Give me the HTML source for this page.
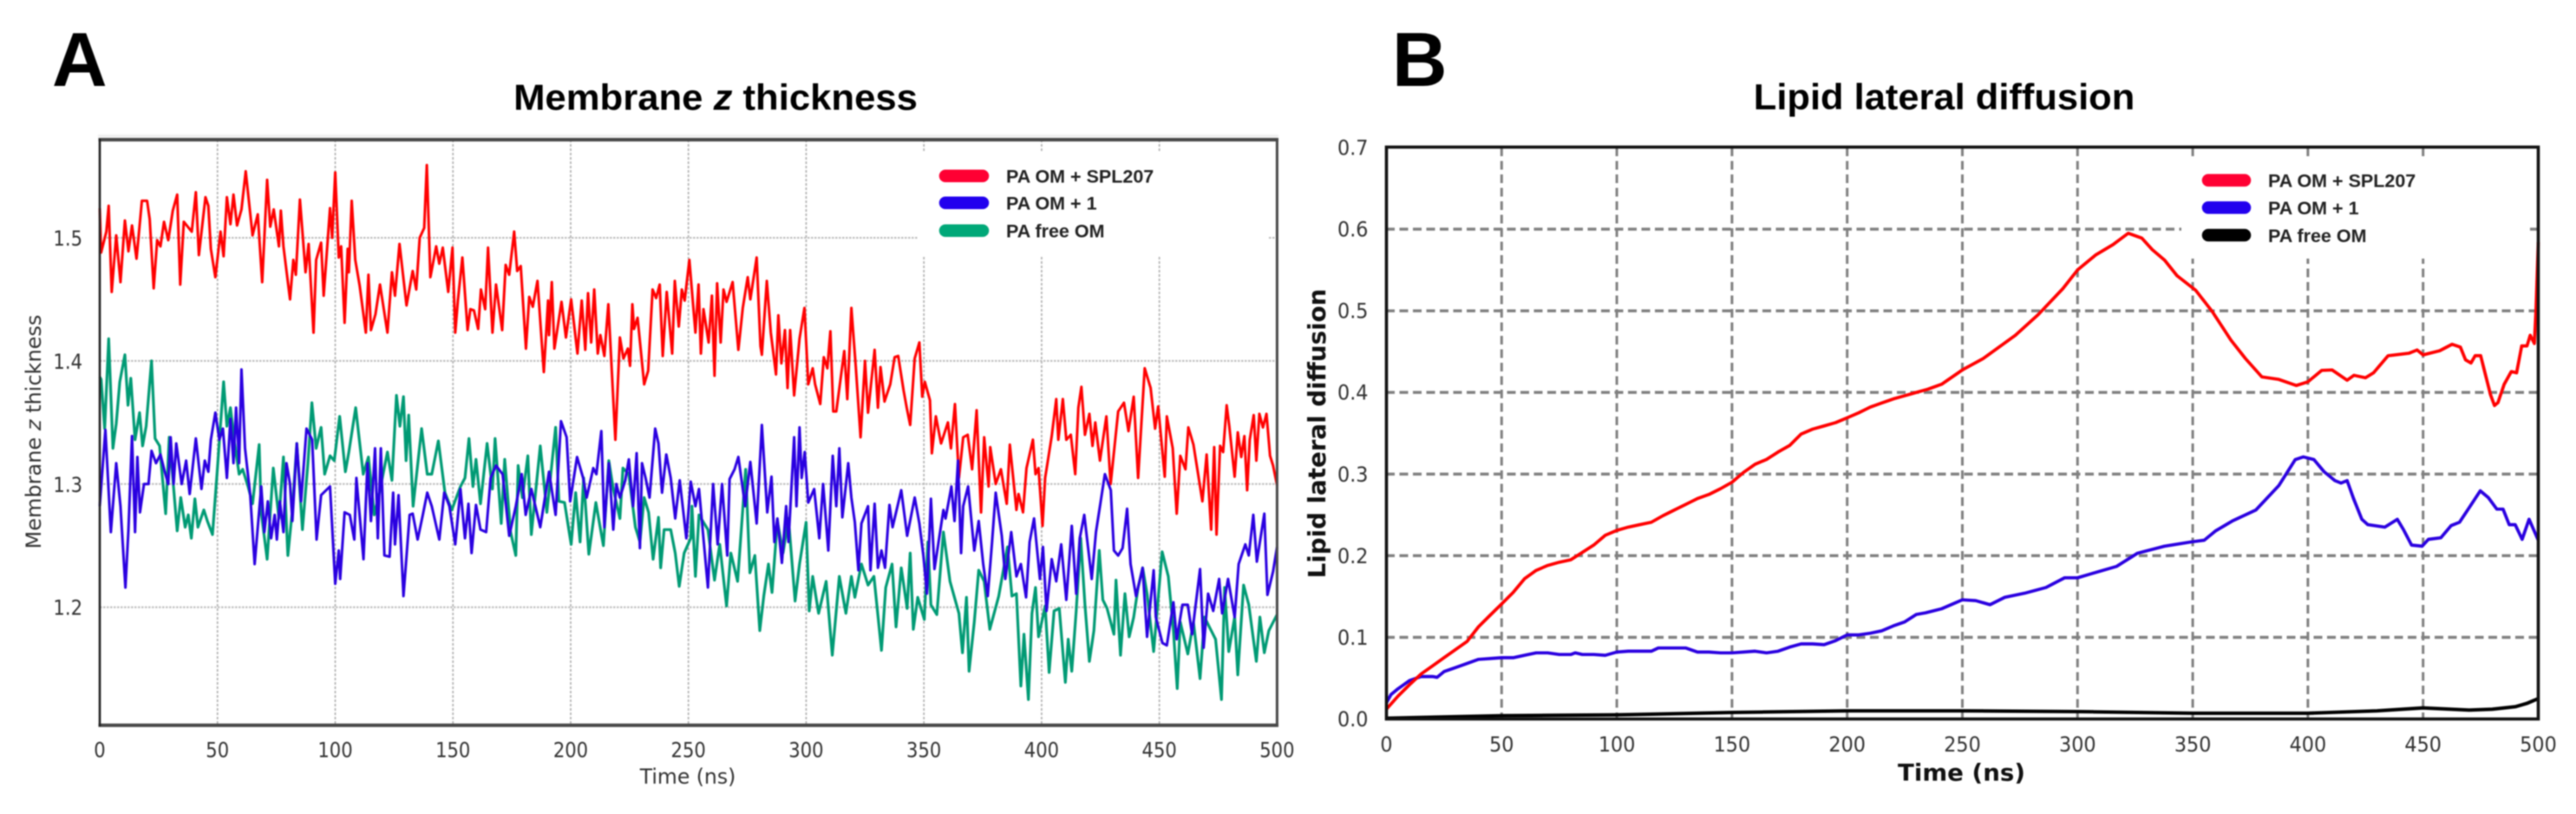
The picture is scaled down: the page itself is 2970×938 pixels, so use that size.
<!DOCTYPE html>
<html lang="en">
<head>
<meta charset="utf-8">
<title>Membrane z thickness and lipid lateral diffusion</title>
<style>
html,body{margin:0;padding:0;background:#fff;width:2970px;height:938px;overflow:hidden}
svg{display:block;filter:blur(0.7px)}
.dj{font-family:"DejaVu Sans","Liberation Sans",sans-serif}
.lb{font-family:"Liberation Sans",sans-serif;font-weight:bold}
</style>
</head>
<body>
<svg id="figure" xmlns="http://www.w3.org/2000/svg" width="2970" height="938" viewBox="0 0 2970 938">
  <rect width="2970" height="938" fill="#fff"/>
  <text class="lb" x="60" y="99" font-size="88" fill="#000">A</text>
  <text class="lb" x="1605" y="99" font-size="88" fill="#000">B</text>
  <text class="lb" transform="translate(825,126.5) scale(1.04,1)" text-anchor="middle" font-size="42" fill="#000">Membrane <tspan font-style="italic">z</tspan> thickness</text>
  <text class="lb" transform="translate(2241.5,126) scale(1.035,1)" text-anchor="middle" font-size="42" fill="#000">Lipid lateral diffusion</text>

  <rect x="113" y="155" width="1361" height="5" fill="#f0f0f0"/>
  <g id="gridA"></g>
  <rect x="1059" y="175" width="404" height="119" fill="#fff"/>
  <g id="seriesA"></g>
  <g fill="none">
    <line x1="113.5" y1="161" x2="1474" y2="161" stroke="#484848" stroke-width="4"/>
    <line x1="113.5" y1="835.7" x2="1474" y2="835.7" stroke="#484848" stroke-width="4"/>
    <line x1="115" y1="160" x2="115" y2="837" stroke="#222" stroke-width="2.6"/>
    <line x1="1472.4" y1="160" x2="1472.4" y2="837" stroke="#484848" stroke-width="3"/>
  </g>
  <g id="ticksA"></g>
  <text class="dj" transform="translate(793,903) scale(0.98,1)" text-anchor="middle" font-size="24" fill="#333">Time (ns)</text>
  <text class="dj" transform="translate(47,497.5) rotate(-90)" text-anchor="middle" font-size="24" fill="#333">Membrane <tspan font-style="italic">z</tspan> thickness</text>
  <g>
    <g>
      <line x1="1090" y1="202.7" x2="1133" y2="202.7" stroke="#ff0033" stroke-width="14.5" stroke-linecap="round"/>
      <text class="lb" x="1160" y="210.5" font-size="21.5" fill="#222">PA OM + SPL207</text>
    </g>
    <g>
      <line x1="1090" y1="233.7" x2="1133" y2="233.7" stroke="#2200ee" stroke-width="14.5" stroke-linecap="round"/>
      <text class="lb" x="1160" y="241.5" font-size="21.5" fill="#222">PA OM + 1</text>
    </g>
    <g>
      <line x1="1090" y1="265.7" x2="1133" y2="265.7" stroke="#00a878" stroke-width="14.5" stroke-linecap="round"/>
      <text class="lb" x="1160" y="273.5" font-size="21.5" fill="#222">PA free OM</text>
    </g>
  </g>

  <g id="gridB"></g>
  <rect x="2515" y="180" width="402" height="118" fill="#fff"/>
  <g id="seriesB"></g>
  <g fill="none">
    <rect x="1598.5" y="169.5" width="1328" height="659" stroke="#111" stroke-width="3.6"/>
  </g>
  <g id="ticksB"></g>
  <text class="dj" font-weight="bold" transform="translate(2261.5,899.5) scale(1.044,1)" text-anchor="middle" font-size="26.5" fill="#111">Time (ns)</text>
  <text class="dj" font-weight="bold" transform="translate(1528,499.5) rotate(-90)" text-anchor="middle" font-size="27.7" fill="#111">Lipid lateral diffusion</text>
  <g>
    <g>
      <line x1="2546" y1="207.7" x2="2588" y2="207.7" stroke="#ff0033" stroke-width="14.5" stroke-linecap="round"/>
      <text class="lb" x="2615" y="215.5" font-size="21.5" fill="#222">PA OM + SPL207</text>
    </g>
    <g>
      <line x1="2546" y1="239.3" x2="2588" y2="239.3" stroke="#2200ee" stroke-width="14.5" stroke-linecap="round"/>
      <text class="lb" x="2615" y="247" font-size="21.5" fill="#222">PA OM + 1</text>
    </g>
    <g>
      <line x1="2546" y1="271" x2="2588" y2="271" stroke="#000" stroke-width="14.5" stroke-linecap="round"/>
      <text class="lb" x="2615" y="278.8" font-size="21.5" fill="#222">PA free OM</text>
    </g>
  </g>
</svg>
<script>
const xTickLabels = [0,50,100,150,200,250,300,350,400,450,500];
const aYTickLabels = ["1.2","1.3","1.4","1.5"];
const bYTickLabels = ["0.0","0.1","0.2","0.3","0.4","0.5","0.6","0.7"];

const aRedTime = [0,0.6,2.8,3.8,5.1,7,8.8,10.7,12.2,13.7,15.6,17.9,20.1,21.2,22.9,24.4,25.8,27.3,29.1,31,32.9,34.2,35.7,39.1,40.8,42.1,44.9,46.1,47.2,49.1,51.3,52.6,54,55.5,56.8,58.3,60.2,62,64.9,67.1,69,71.1,72.4,73.9,76.1,76.9,78,80.8,82.2,83.3,85,87.4,88.7,90.8,91.9,94,95.1,97.8,98.7,100,101.5,102.5,104,105.3,105.8,107,108.5,110.4,113,114.1,115.2,117.1,119,122.2,124.1,125.4,127.3,130.3,132.9,134.4,135.9,137.8,138.9,140.4,142.9,144.2,145.7,148,149.8,151,152.1,154,156.2,157.4,158.9,160.7,161.9,163.7,164.9,166.8,168.3,170.9,172.4,173.9,176,177.3,178.8,181,182.4,183.9,185.9,188.6,190.4,190.8,192,193.1,196.1,198,200.2,202.9,204.7,206.2,207.4,208.7,210,211.5,212.6,214.3,216,219,220.9,222.4,224.3,225.2,226.2,226.9,228.4,231.2,232.9,234.8,236.3,237.8,239.1,240.8,243.1,244.2,245.9,247.2,248.4,250.4,253,254.3,255.3,256.4,258.6,260,261.1,262.2,263.7,264.9,266.2,268.8,271.2,273.1,275.2,276.3,279,280.6,281.2,283.3,285,287.2,288.2,289.5,291,292.1,293.2,294.9,297.2,299.3,300.9,302.8,303.8,306,307.5,309,310.3,311.5,312.8,316.2,317.5,319.2,321.1,323.1,325,326.3,329.1,330.5,331.6,333.3,335.7,337.6,339.1,341.4,342.7,344.2,346.1,348.1,349.3,350.4,352.6,353.4,355.1,357.3,360.2,361.5,363.2,364.9,366.7,368.6,370.5,372.4,374.3,375.6,377.5,378.2,380.5,382.7,385.2,386.5,389.3,390.2,392.1,393.6,396.3,397.4,398.7,400.4,401.5,404.3,406.2,407.1,409,410.5,412.4,414.3,415.6,416.9,418.4,420.3,421.6,422.8,424.8,427.5,429.3,432.5,435,436.9,439.1,441,443.8,446.3,448.2,449.5,452.3,453.2,455.7,457.4,458.9,461.1,462.3,464.5,468.3,470.1,472,473.3,474.3,475.8,477.1,478.6,479.7,482,483.3,484.8,486.1,487.3,488.4,490.1,491.2,492.5,494,495.5,497,498.3,500];
const aRedValue = [1.524,1.488,1.505,1.526,1.456,1.502,1.464,1.514,1.489,1.51,1.483,1.53,1.53,1.515,1.459,1.498,1.493,1.513,1.498,1.522,1.535,1.462,1.513,1.505,1.537,1.486,1.533,1.526,1.491,1.468,1.505,1.485,1.533,1.511,1.535,1.51,1.523,1.554,1.502,1.519,1.464,1.547,1.509,1.523,1.493,1.522,1.493,1.45,1.482,1.47,1.531,1.472,1.495,1.423,1.482,1.496,1.453,1.524,1.5,1.553,1.484,1.493,1.431,1.491,1.472,1.53,1.482,1.461,1.423,1.47,1.425,1.438,1.462,1.423,1.472,1.453,1.495,1.445,1.473,1.458,1.5,1.508,1.559,1.468,1.493,1.479,1.492,1.456,1.492,1.423,1.449,1.484,1.425,1.442,1.441,1.426,1.458,1.442,1.492,1.423,1.462,1.425,1.478,1.47,1.505,1.473,1.477,1.41,1.452,1.444,1.465,1.391,1.449,1.421,1.464,1.41,1.448,1.419,1.45,1.406,1.449,1.409,1.455,1.415,1.458,1.406,1.421,1.404,1.446,1.336,1.419,1.402,1.41,1.396,1.446,1.426,1.435,1.381,1.392,1.458,1.451,1.462,1.404,1.456,1.406,1.465,1.428,1.458,1.449,1.482,1.423,1.462,1.406,1.442,1.415,1.453,1.388,1.463,1.415,1.458,1.448,1.464,1.409,1.443,1.468,1.45,1.484,1.412,1.405,1.465,1.423,1.389,1.437,1.398,1.425,1.378,1.425,1.372,1.418,1.443,1.381,1.394,1.381,1.365,1.403,1.394,1.424,1.359,1.359,1.408,1.369,1.443,1.395,1.338,1.4,1.358,1.409,1.362,1.395,1.367,1.381,1.403,1.404,1.376,1.362,1.348,1.402,1.415,1.371,1.383,1.368,1.325,1.355,1.333,1.35,1.329,1.365,1.305,1.338,1.34,1.312,1.36,1.277,1.338,1.298,1.33,1.3,1.312,1.284,1.332,1.279,1.292,1.277,1.313,1.336,1.308,1.313,1.266,1.305,1.339,1.369,1.336,1.369,1.336,1.34,1.308,1.362,1.379,1.34,1.357,1.331,1.35,1.319,1.355,1.3,1.359,1.366,1.343,1.371,1.305,1.394,1.378,1.345,1.363,1.306,1.355,1.329,1.276,1.323,1.312,1.346,1.332,1.286,1.324,1.263,1.33,1.259,1.331,1.326,1.364,1.347,1.306,1.342,1.322,1.339,1.295,1.336,1.356,1.319,1.357,1.346,1.357,1.323,1.315,1.299];

const aBlueTime = [0,2.4,4.7,7,8.8,10.9,12.2,13.7,15,16,17.1,18.8,20.7,22,23.9,25.8,27.6,29.1,30.1,31.4,32.5,34.8,36.7,38.2,40.8,43.2,44.6,46.1,47.2,49.1,50.8,52.3,54,55.5,56.8,57.9,59.2,60.2,61.7,63.9,65.8,68.6,69.9,71.4,72.8,74.3,75.2,76.5,78,79.3,80.8,81.8,83.7,85.5,87.8,90.2,92.1,94,97.8,100,101.5,102.1,104,106.2,108.1,109,112,113.7,115.2,116.9,118.1,119.4,120.9,123.1,124.6,125.4,126.9,129,131.6,132.9,135,137.2,139.1,141,144.2,146.3,148.5,151,153.2,155.1,156.6,157.9,159.8,161.7,164.1,166,168.3,171.1,173.9,176.7,179.2,180.9,183.3,187.1,190.8,193.6,195.9,198.3,199.8,202.7,205.3,206.8,209.6,210.9,213,214.3,216.2,218.1,219.4,220.9,223.2,224.7,226.5,228,229.4,230.3,231.8,233.5,235.9,237.3,238.8,240.6,242.5,244.4,246.3,249.1,251,253,254.5,258.3,260.5,262.4,264.3,266.5,267.5,269.6,271.2,274.1,276.3,279,281.2,283.5,285.3,286.5,287.8,289.7,291.5,292.5,294.9,295.9,297.2,298.1,299.4,300.9,303.4,305.6,307.2,309.4,311.3,312.8,314.1,315.4,317.9,319.2,320.7,322.2,323.5,326.3,327.3,329.1,330.5,332,333.5,335.4,336.7,340.4,342.9,346.1,348.1,349.8,351.3,353,354.5,358.3,359.2,361.7,363,364.5,365.8,366.7,368.8,371.4,373.3,375.2,377.1,378.9,380.5,383.1,384.6,387.1,389.3,391.2,393.4,394.9,396.8,399.3,400.6,402.1,404.3,406.2,408.3,410.5,412.8,414.7,416.2,418.1,421.3,423.1,426.9,429.4,430.7,432.5,434.4,436.3,437.8,440.1,442.9,444.8,447.6,448.5,451.3,453.2,456,457.4,459.8,462.1,463.9,467.3,468.8,470.7,472.9,475.4,476.7,479.2,482,483.7,486.5,488,489.9,491.4,494.6,495.9,498.3,500];
const aBlueValue = [1.282,1.344,1.261,1.317,1.282,1.216,1.263,1.339,1.261,1.322,1.277,1.3,1.3,1.327,1.317,1.324,1.31,1.3,1.338,1.3,1.333,1.3,1.319,1.292,1.337,1.296,1.319,1.31,1.336,1.358,1.336,1.345,1.305,1.353,1.317,1.362,1.317,1.393,1.329,1.291,1.235,1.298,1.261,1.286,1.256,1.275,1.255,1.286,1.261,1.317,1.3,1.27,1.333,1.286,1.345,1.336,1.255,1.291,1.298,1.219,1.246,1.223,1.277,1.275,1.255,1.305,1.239,1.317,1.27,1.329,1.256,1.329,1.242,1.241,1.293,1.251,1.291,1.209,1.275,1.276,1.255,1.275,1.293,1.282,1.255,1.293,1.282,1.251,1.296,1.256,1.284,1.244,1.283,1.263,1.261,1.305,1.315,1.308,1.258,1.282,1.308,1.275,1.296,1.265,1.31,1.275,1.351,1.338,1.286,1.322,1.305,1.289,1.313,1.308,1.343,1.265,1.317,1.263,1.3,1.289,1.303,1.32,1.282,1.325,1.248,1.317,1.305,1.289,1.345,1.333,1.293,1.324,1.305,1.272,1.303,1.256,1.302,1.282,1.296,1.216,1.3,1.251,1.3,1.242,1.304,1.312,1.322,1.282,1.318,1.268,1.348,1.277,1.306,1.253,1.272,1.236,1.282,1.253,1.338,1.282,1.346,1.305,1.326,1.285,1.296,1.256,1.3,1.246,1.323,1.282,1.329,1.273,1.317,1.289,1.269,1.23,1.268,1.282,1.23,1.284,1.232,1.246,1.232,1.283,1.265,1.295,1.258,1.289,1.268,1.242,1.211,1.288,1.231,1.279,1.272,1.298,1.27,1.319,1.244,1.282,1.298,1.246,1.27,1.235,1.209,1.251,1.293,1.258,1.223,1.261,1.225,1.235,1.208,1.253,1.272,1.223,1.249,1.197,1.239,1.221,1.251,1.206,1.266,1.211,1.256,1.275,1.223,1.261,1.308,1.295,1.246,1.242,1.248,1.28,1.235,1.209,1.232,1.176,1.23,1.192,1.171,1.169,1.204,1.174,1.202,1.202,1.178,1.231,1.167,1.211,1.197,1.223,1.195,1.223,1.192,1.235,1.251,1.242,1.275,1.237,1.276,1.21,1.229,1.249];

const aGreenTime = [0,0.6,2.1,3.8,5.6,7,8.5,10.7,12,13.2,15,16.9,18.2,19.7,22,23.5,25.4,28,29.5,31,32.9,34.4,36.3,37.6,38.9,40.4,41.7,44.2,45.7,47.9,49.8,52.6,54,55.5,57.3,59.2,60.7,63,64.9,67.7,68.6,71.1,73.7,76.1,78,79.9,81.8,83.7,86.1,88.4,90.1,91.9,94,95.5,97.8,99.6,101.9,104.3,105.8,108.7,111.9,114.1,116.6,118.8,122.2,124.1,126,127.5,129,130.1,131.2,133.1,136.7,139.1,141,143.8,146.6,149.5,153.2,155.1,156.8,158.5,159.8,161.7,164.5,166.8,167.9,170.5,172,174.5,176.7,177.7,179.5,181.8,183.3,187.1,189.9,193.6,195,197.4,200.2,202.1,204,205.5,207.7,210.7,213.9,216.2,218.1,220.9,222.2,224.7,227.5,229.4,231.2,233.1,235,237.3,238.2,239.7,242.5,244.4,246.1,248.2,251,251.5,253,254.5,258.3,261.1,263.3,266.2,268,270.9,274.3,276.1,278.2,280.3,282,284,285.5,287.8,290.2,292.5,295.3,297.2,300,301.3,302.8,305.3,308.5,311.1,314.1,316.9,319.2,320.7,323.5,326.3,328.8,332,333.8,336.5,338.2,340.4,342.9,344.2,345.5,347.4,350.2,351.7,353,355.5,358.3,361.1,364.9,366.4,368.1,369.2,371.4,373.3,375.6,378,381.8,385.5,387.4,389.3,391.2,392.5,394.4,395.9,397.4,398.7,401.5,403.2,405.3,407.5,410.1,411.3,412.8,414.7,416.6,418.4,420.3,422.2,424.5,426,427.8,430.7,431.6,433.5,435.4,437.2,439.1,441,442.9,444.8,447.6,451.2,453.8,456,457.6,458.9,462.1,464.5,467.3,469.2,471.5,473.9,476.4,477.7,479.5,482,483.3,485.8,488,491.2,492.7,494.6,496.5,500];
const aGreenValue = [1.387,1.385,1.345,1.418,1.329,1.349,1.383,1.405,1.364,1.386,1.336,1.358,1.331,1.347,1.4,1.337,1.331,1.276,1.338,1.305,1.262,1.289,1.265,1.275,1.256,1.288,1.265,1.279,1.27,1.259,1.308,1.383,1.347,1.362,1.333,1.308,1.312,1.298,1.284,1.332,1.277,1.239,1.313,1.272,1.322,1.242,1.279,1.333,1.263,1.317,1.366,1.329,1.346,1.308,1.323,1.319,1.355,1.31,1.326,1.362,1.308,1.322,1.275,1.293,1.326,1.303,1.372,1.347,1.371,1.319,1.356,1.282,1.345,1.308,1.308,1.335,1.293,1.279,1.298,1.305,1.337,1.298,1.32,1.284,1.333,1.296,1.337,1.268,1.32,1.261,1.242,1.315,1.289,1.323,1.259,1.331,1.277,1.346,1.286,1.285,1.251,1.293,1.253,1.305,1.243,1.285,1.25,1.319,1.296,1.272,1.313,1.308,1.265,1.253,1.289,1.277,1.239,1.273,1.232,1.263,1.263,1.244,1.217,1.244,1.256,1.282,1.225,1.275,1.263,1.222,1.251,1.201,1.244,1.221,1.312,1.228,1.242,1.181,1.209,1.235,1.212,1.27,1.244,1.272,1.205,1.235,1.269,1.197,1.225,1.195,1.221,1.161,1.225,1.195,1.225,1.208,1.235,1.218,1.225,1.165,1.216,1.235,1.184,1.232,1.199,1.244,1.182,1.208,1.19,1.253,1.202,1.194,1.261,1.221,1.195,1.163,1.208,1.148,1.188,1.23,1.221,1.182,1.209,1.249,1.209,1.211,1.136,1.178,1.125,1.195,1.216,1.176,1.201,1.147,1.197,1.199,1.139,1.174,1.148,1.197,1.256,1.202,1.156,1.181,1.246,1.206,1.199,1.178,1.222,1.161,1.211,1.176,1.192,1.216,1.232,1.211,1.164,1.245,1.225,1.181,1.134,1.188,1.162,1.188,1.142,1.192,1.183,1.174,1.125,1.216,1.164,1.192,1.145,1.218,1.202,1.156,1.192,1.163,1.181,1.194];

const bRedTime = [0,5,10,15,20,25,30,35,40,45,50,55,60,65,70,75,80,85,90,95,100,105,110,115,120,125,130,135,140,145,150,155,160,165,170,175,180,185,190,195,200,205,210,215,220,225,230,235,241,250,259,273,283,293.6,300,308,315.4,322,327.9,332.4,337.8,343.2,351.3,358.5,366.6,372.9,380,387.4,395,400,406,410.5,417,420,425,428.5,434.8,443.8,447.4,450,457.2,462.6,466.2,468.4,470.8,472.6,475,477,479.3,481,482.5,485.2,488.3,490.6,492.8,495.1,496.5,498.3,499,500];
const bRedValue = [0.012,0.028,0.042,0.055,0.065,0.075,0.085,0.095,0.113,0.127,0.141,0.155,0.172,0.182,0.188,0.192,0.195,0.204,0.213,0.225,0.231,0.235,0.238,0.241,0.249,0.256,0.263,0.27,0.275,0.282,0.29,0.302,0.312,0.318,0.327,0.335,0.349,0.355,0.359,0.363,0.369,0.375,0.382,0.387,0.392,0.396,0.4,0.404,0.41,0.4276,0.4415,0.47,0.4955,0.527,0.55,0.5686,0.581,0.595,0.589,0.575,0.562,0.543,0.525,0.499,0.464,0.4415,0.419,0.416,0.4085,0.413,0.427,0.4275,0.415,0.421,0.418,0.424,0.445,0.448,0.452,0.446,0.451,0.459,0.4555,0.44,0.436,0.445,0.445,0.4225,0.397,0.384,0.3875,0.41,0.4255,0.424,0.457,0.457,0.47,0.46,0.499,0.584];

const bBlueTime = [0,2,5,10,15,20,22,25,30,35,40,45,50,55,60,65,70,75,80,82,85,90,95,100,105,110,115,118,125,130,135,140,145,150,155,160,165,170,175,180,185,190,195,200,205,210,215,220,225,230,234,241,250,255.8,262,268.4,277,286.3,294.4,300,306,317,326,337.7,349.4,355,360,367.5,377.4,387.4,394.5,398,402.6,407,411.7,414.4,417,419.8,423.4,426,433.4,438.8,441.5,445,449.6,452.3,457.7,462.2,465.8,470.3,474.8,478.4,482,484.7,487.4,490,493,496,500];
const bBlueValue = [0.02,0.03,0.037,0.047,0.052,0.052,0.051,0.058,0.063,0.068,0.073,0.074,0.075,0.075,0.078,0.081,0.081,0.079,0.079,0.081,0.079,0.079,0.078,0.082,0.083,0.083,0.083,0.087,0.087,0.087,0.082,0.082,0.081,0.081,0.082,0.083,0.081,0.083,0.088,0.092,0.092,0.091,0.096,0.103,0.103,0.105,0.108,0.114,0.119,0.128,0.13,0.135,0.146,0.145,0.14,0.149,0.154,0.161,0.173,0.173,0.178,0.187,0.203,0.2116,0.217,0.219,0.2306,0.243,0.256,0.286,0.3177,0.321,0.3177,0.303,0.292,0.289,0.292,0.27,0.2446,0.238,0.235,0.2446,0.232,0.213,0.2116,0.22,0.222,0.237,0.241,0.26,0.2795,0.271,0.257,0.257,0.238,0.238,0.22,0.2446,0.219];

const bBlackTime = [0,50,100,150,200,250,300,350,400,430,450,470,480,490,495,500];
const bBlackValue = [0.001,0.004,0.005,0.008,0.01,0.01,0.009,0.007,0.007,0.01,0.0135,0.011,0.012,0.015,0.019,0.025];

const SVGNS = "http://www.w3.org/2000/svg";
const ax = t => 115 + (t / 500) * 1357.4;
const ay = v => 274 + (1.5 - v) * 1419;
const bx = t => 1598.5 + (t / 500) * 1328;
const by = v => 828.5 - (v / 0.7) * 658.5;

function makeLine(parent, x1, y1, x2, y2, color, width, dash) {
  const el = document.createElementNS(SVGNS, "line");
  el.setAttribute("x1", x1);
  el.setAttribute("y1", y1);
  el.setAttribute("x2", x2);
  el.setAttribute("y2", y2);
  el.setAttribute("stroke", color);
  el.setAttribute("stroke-width", width);
  el.setAttribute("stroke-dasharray", dash);
  parent.appendChild(el);
  return el;
}
function makeText(parent, str, x, y, size, sx, anchor, color) {
  const el = document.createElementNS(SVGNS, "text");
  el.setAttribute("class", "dj");
  el.setAttribute("transform", "translate(" + x + "," + y + ") scale(" + sx + ",1)");
  el.setAttribute("text-anchor", anchor);
  el.setAttribute("font-size", size);
  el.setAttribute("fill", color);
  el.textContent = str;
  parent.appendChild(el);
  return el;
}
function makePath(parent, times, values, xf, yf, color, width) {
  const el = document.createElementNS(SVGNS, "path");
  let d = "";
  const n = Math.min(times.length, values.length);
  for (let i = 0; i < n; i++) {
    d += (i ? "L" : "M") + xf(times[i]).toFixed(1) + " " + yf(values[i]).toFixed(1);
  }
  el.setAttribute("d", d);
  el.setAttribute("fill", "none");
  el.setAttribute("stroke", color);
  el.setAttribute("stroke-width", width);
  el.setAttribute("stroke-linejoin", "round");
  parent.appendChild(el);
  return el;
}

const gridA = document.getElementById("gridA");
const gridB = document.getElementById("gridB");
const ticksA = document.getElementById("ticksA");
const ticksB = document.getElementById("ticksB");
const seriesA = document.getElementById("seriesA");
const seriesB = document.getElementById("seriesB");

xTickLabels.forEach(function (t) {
  if (t > 0 && t < 500) {
    const g1 = makeLine(gridA, ax(t), 161, ax(t), 836, "#b4b4b4", 1.8, "3 2");
    
    
    const g2 = makeLine(gridB, bx(t), 170, bx(t), 828, "#808080", 3, "10 5.5");
    
    
  }
  const l1 = makeText(ticksA, String(t), ax(t), 872.7, 24, 0.88, "middle", "#333");
  
  
  const l2 = makeText(ticksB, String(t), bx(t), 866, 24, 0.93, "middle", "#333");
  
  
});
aYTickLabels.forEach(function (s) {
  const v = parseFloat(s);
  const g = makeLine(gridA, 115, ay(v), 1472, ay(v), "#bcbcbc", 2, "2.5 1.5");
  
  
  const l = makeText(ticksA, s, 95, ay(v) + 9, 24, 0.88, "end", "#333");
  
  
});
bYTickLabels.forEach(function (s) {
  const v = parseFloat(s);
  if (v > 0 && v < 0.7) {
    const g = makeLine(gridB, 1598, by(v), 2926, by(v), "#808080", 3.4, "10 5.5");
    
    
  }
  const l = makeText(ticksB, s, 1577.5, by(v) + 8.5, 24, 0.93, "end", "#333");
  
  
});

const lineARed = makePath(seriesA, aRedTime, aRedValue, ax, ay, "#ff0000", 3);


const lineAGreen = makePath(seriesA, aGreenTime, aGreenValue, ax, ay, "#009a74", 3.2);


const lineABlue = makePath(seriesA, aBlueTime, aBlueValue, ax, ay, "#2a00e0", 3);



const lineBBlack = makePath(seriesB, bBlackTime, bBlackValue, bx, by, "#000000", 4);


const lineBBlue = makePath(seriesB, bBlueTime, bBlueValue, bx, by, "#2a00e0", 3.7);


const lineBRed = makePath(seriesB, bRedTime, bRedValue, bx, by, "#ff0000", 3.7);


</script>
</body>
</html>
